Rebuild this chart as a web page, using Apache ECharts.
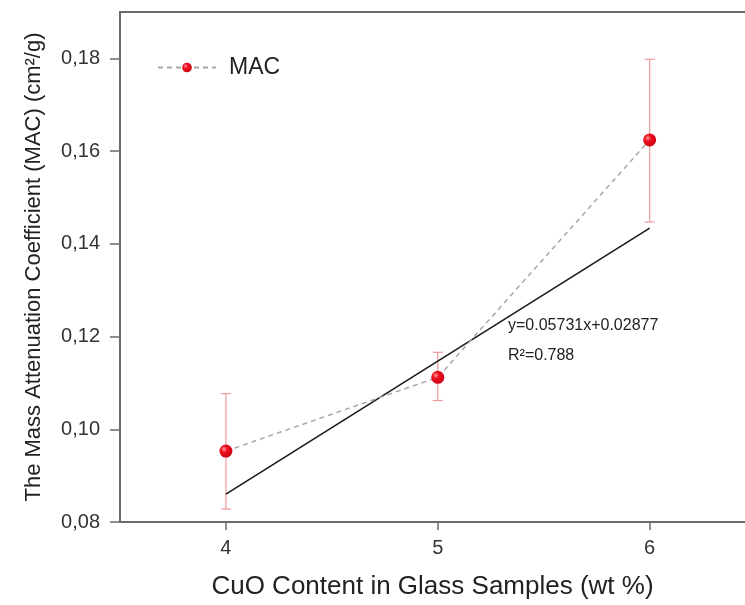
<!DOCTYPE html>
<html>
<head>
<meta charset="utf-8">
<script src="https://cdn.jsdelivr.net/npm/echarts@6/dist/echarts.min.js"></script>
<style>
  html, body { margin: 0; padding: 0; background: #fff; }
  #myChart { width: 745px; height: 605px; }
</style>
</head>
<body>
<div id="myChart"></div>
<script>
// data
var cuoContent = [4, 5, 6];
var macValues = [0.0953, 0.1112, 0.1624];
var errLow = [0.0828, 0.1062, 0.1447];
var errHigh = [0.1077, 0.1166, 0.1798];
var fitX = [4, 6];
var fitY = [0.0860, 0.1434];
var xTicks = [4, 5, 6];
var yTicks = [0.08, 0.10, 0.12, 0.14, 0.16, 0.18];
var fitText = ['y=0.05731x+0.02877', 'R²=0.788'];

var chart = echarts.init(document.getElementById('myChart'));

var macData = cuoContent.map(function (x, i) { return [x, macValues[i]]; });
var errData = cuoContent.map(function (x, i) { return [x, errLow[i], errHigh[i]]; });
var fitData = fitX.map(function (x, i) { return [x, fitY[i]]; });

var axisColor = '#6b6b6b';
var labelColor = '#333';

chart.setOption({
    animation: false,
    textStyle: { fontFamily: 'Arial, "Liberation Sans", sans-serif' },
    grid: { left: 120, top: 12, right: 0, bottom: 82 },
    legend: {
        data: ['MAC'],
        left: 152,
        top: 51,
        itemWidth: 58,
        itemHeight: 12,
        textStyle: { fontSize: 23, color: '#222', padding: [0, 0, 0, 8] }
    },
    xAxis: [{
        type: 'value',
        min: 3.5,
        max: 6.45,
        name: 'CuO Content in Glass Samples (wt %)',
        nameLocation: 'middle',
        nameGap: 52,
        nameTextStyle: { fontSize: 26, color: '#222' },
        splitLine: { show: false },
        axisLine: { lineStyle: { color: axisColor, width: 2 } },
        axisTick: { customValues: xTicks, length: 8, lineStyle: { color: axisColor, width: 1.5 } },
        axisLabel: { customValues: xTicks, fontSize: 20, color: labelColor, margin: 16 }
    }, {
        type: 'value',
        position: 'top',
        min: 3.5,
        max: 6.45,
        splitLine: { show: false },
        axisLine: { show: true, lineStyle: { color: axisColor, width: 2 } },
        axisTick: { show: false },
        axisLabel: { show: false }
    }],
    yAxis: {
        type: 'value',
        min: 0.08,
        max: 0.19,
        name: 'The Mass Attenuation Coefficient (MAC) (cm²/g)',
        nameLocation: 'middle',
        nameGap: 75,
        nameTextStyle: { fontSize: 22, color: '#222' },
        splitLine: { show: false },
        axisLine: { show: true, lineStyle: { color: axisColor, width: 2 } },
        axisTick: { show: true, customValues: yTicks, length: 10, lineStyle: { color: axisColor, width: 1.5 } },
        axisLabel: {
            customValues: yTicks,
            fontSize: 20,
            color: labelColor,
            margin: 20,
            formatter: function (v) {
                return v.toFixed(2).replace('.', ',');
            }
        }
    },
    graphic: [{
        type: 'text',
        left: 508,
        top: 318,
        style: { text: fitText[0], fontSize: 16, fill: '#222', fontFamily: 'Arial' }
    }, {
        type: 'text',
        left: 508,
        top: 348,
        style: { text: fitText[1], fontSize: 16, fill: '#222', fontFamily: 'Arial' }
    }],
    series: [{
        name: 'errors',
        type: 'custom',
        z: 2,
        data: errData,
        renderItem: function (params, api) {
            var x = api.value(0);
            var lo = api.coord([x, api.value(1)]);
            var hi = api.coord([x, api.value(2)]);
            var w = 5;
            var style = { stroke: '#f09a9a', lineWidth: 1.2 };
            return {
                type: 'group',
                children: [
                    { type: 'line', shape: { x1: lo[0], y1: lo[1], x2: hi[0], y2: hi[1] }, style: style },
                    { type: 'line', shape: { x1: lo[0] - w, y1: lo[1], x2: lo[0] + w, y2: lo[1] }, style: style },
                    { type: 'line', shape: { x1: hi[0] - w, y1: hi[1], x2: hi[0] + w, y2: hi[1] }, style: style }
                ]
            };
        }
    }, {
        name: 'fit',
        type: 'line',
        z: 3,
        data: fitData,
        symbol: 'none',
        lineStyle: { color: '#1a1a1a', width: 1.6 }
    }, {
        name: 'MAC',
        type: 'line',
        z: 4,
        data: macData,
        symbol: 'circle',
        symbolSize: 13,
        lineStyle: { color: '#a8a8a8', width: 1.5, type: [5, 4] },
        itemStyle: {
            color: new echarts.graphic.RadialGradient(0.35, 0.35, 0.7, [
                { offset: 0, color: '#ff9a9a' },
                { offset: 0.35, color: '#f01020' },
                { offset: 1, color: '#c8000f' }
            ])
        }
    }]
});
</script>
</body>
</html>
